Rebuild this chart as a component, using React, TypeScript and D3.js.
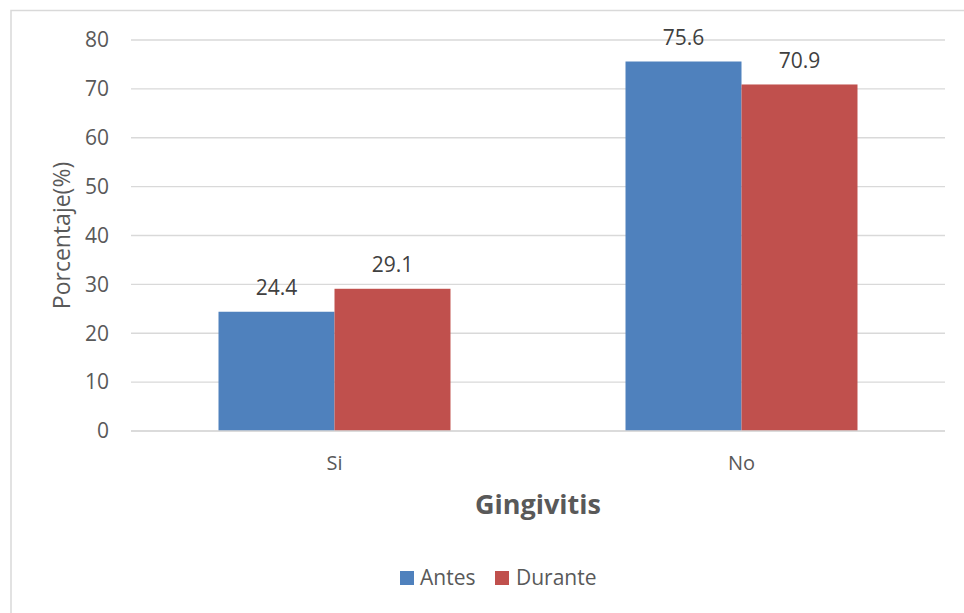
import React from "react";
import * as d3 from "d3";

const categories = ["Si", "No"];
const seriesNames = ["Antes", "Durante"];
const antes = [24.4, 75.6];
const durante = [29.1, 70.9];
const yTicks = [0, 10, 20, 30, 40, 50, 60, 70, 80];
const colors = ["#4F81BD", "#C0504D"];

const W = 964;
const H = 613;
const plot = { left: 131, right: 945, top: 40, bottom: 431 };
const font = "'Open Sans', 'Segoe UI', sans-serif";

export default function App() {
  const y = d3.scaleLinear().domain([0, 80]).range([plot.bottom, plot.top]);
  const x0 = d3
    .scaleBand<string>()
    .domain(categories)
    .range([plot.left, plot.right])
    .paddingInner(0.43)
    .paddingOuter(0.215);
  const x1 = d3.scaleBand<string>().domain(seriesNames).range([0, x0.bandwidth()]);
  const series = [antes, durante];

  return (
    <svg
      width={W}
      height={H}
      style={{ position: "absolute", left: 0, top: 0, background: "#fff" }}
    >
      <rect x={0} y={0} width={W} height={H} fill="#fff" />
      <rect x={11} y={10.5} width={W + 20} height={H + 20} fill="none" stroke="#D9D9D9" strokeWidth={1.5} />
      {yTicks.map((t) => (
        <g key={t}>
          <line x1={plot.left} x2={plot.right} y1={y(t)} y2={y(t)} stroke="#D9D9D9" strokeWidth={1.3} />
          <text x={109} y={y(t)} dy="0.35em" textAnchor="end" fontSize={21} fill="#595959" fontFamily={font}>
            {t}
          </text>
        </g>
      ))}
      {categories.map((c, ci) => (
        <g key={c}>
          {series.map((s, si) => {
            const bx = (x0(c) as number) + (x1(seriesNames[si]) as number);
            return (
              <g key={si}>
                <rect
                  x={bx}
                  y={y(s[ci])}
                  width={x1.bandwidth()}
                  height={plot.bottom - y(s[ci])}
                  fill={colors[si]}
                />
                <text
                  x={bx + x1.bandwidth() / 2}
                  y={y(s[ci]) - 24}
                  dy="0.35em"
                  textAnchor="middle"
                  fontSize={21}
                  fill="#404040"
                  fontFamily={font}
                >
                  {s[ci].toFixed(1)}
                </text>
              </g>
            );
          })}
          <text
            x={(x0(c) as number) + x0.bandwidth() / 2}
            y={463}
            dy="0.35em"
            textAnchor="middle"
            fontSize={20}
            fill="#595959"
            fontFamily={font}
          >
            {c}
          </text>
        </g>
      ))}
      <line x1={plot.left} x2={plot.right} y1={plot.bottom} y2={plot.bottom} stroke="#D9D9D9" strokeWidth={1.3} />
      <text
        transform={`translate(62, ${(plot.top + plot.bottom) / 2}) rotate(-90)`}
        dy="0.35em"
        textAnchor="middle"
        fontSize={23}
        fill="#595959"
        fontFamily={font}
      >
        Porcentaje(%)
      </text>
      <text
        x={(plot.left + plot.right) / 2}
        y={505}
        dy="0.35em"
        textAnchor="middle"
        fontSize={27}
        fontWeight="bold"
        fill="#595959"
        fontFamily={font}
      >
        Gingivitis
      </text>
      <g>
        <rect x={400} y={571} width={14} height={14} fill={colors[0]} />
        <text x={420} y={578} dy="0.35em" fontSize={21} fill="#595959" fontFamily={font}>
          {seriesNames[0]}
        </text>
        <rect x={495} y={571} width={14} height={14} fill={colors[1]} />
        <text x={516} y={578} dy="0.35em" fontSize={21} fill="#595959" fontFamily={font}>
          {seriesNames[1]}
        </text>
      </g>
    </svg>
  );
}
